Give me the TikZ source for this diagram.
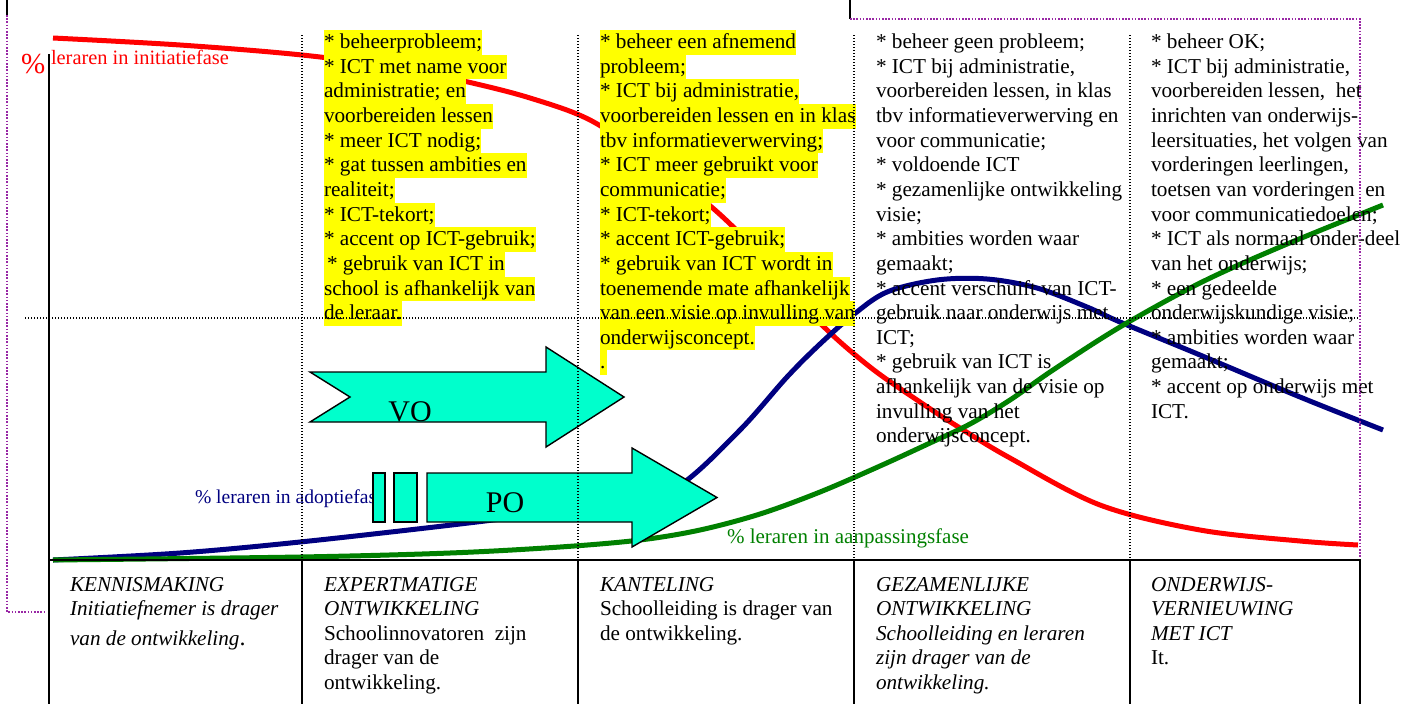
\documentclass[tikz,border=0pt]{standalone}
\usepackage{fontspec}
\setmainfont{Liberation Serif}
\definecolor{curvered}{RGB}{255,0,0}
\definecolor{curveblue}{RGB}{0,0,128}
\definecolor{curvegreen}{RGB}{0,128,0}
\definecolor{hlyellow}{RGB}{255,255,0}
\definecolor{arrowfill}{RGB}{0,255,204}
\definecolor{framepurple}{RGB}{153,40,165}
\newcommand\colfont{\fontsize{21.2pt}{24.65pt}\selectfont}
\newcommand\lblfont{\fontsize{20.4pt}{24pt}\selectfont}
\newcommand\bigfont{\fontsize{30pt}{34pt}\selectfont}
\begin{document}
\begin{tikzpicture}[x=1pt,y=-1pt,
  coltext/.style={anchor=north west,inner sep=0pt,outer sep=0pt,text height=18.5pt,text depth=6.15pt,font=\colfont},
  hl/.style={coltext,fill=hlyellow},
  tabtext/.style={anchor=base west,inner sep=0pt,outer sep=0pt,font=\colfont},
  lbl/.style={anchor=base west,inner sep=0pt,outer sep=0pt,font=\lblfont},
  curve/.style={line width=5pt,line join=round},
  sep/.style={black,line width=1.1pt,dash pattern=on 1.1pt off 1.9pt},
  frame/.style={framepurple,line width=1.6pt,dash pattern=on 1.6pt off 1.6pt},
  fat/.style={draw=black,line width=1.4pt,fill=arrowfill,line join=miter},
  rule/.style={black,line width=2pt}
]
\useasboundingbox (0,0) rectangle (1402,704);

% --- the three phase curves ---
\draw[curve,curvered] plot[smooth,tension=0.55] coordinates {
  (53,38) (180,45) (302,55) (400,68) (468,82) (530,98) (590,120) (650,160)
  (715,210) (770,265) (820,323) (870,367) (920,402) (960,428) (1010,458)
  (1100,505) (1200,530) (1300,541) (1358,545)};
\draw[curve,curveblue] plot[smooth,tension=0.55] coordinates {
  (53,560) (180,553) (300,542) (460,524) (560,511) (630,498) (680,485)
  (740,430) (787,377) (820,344) (853,315) (887,292) (937,280) (987,279)
  (1037,288) (1087,307) (1120,322) (1200,355) (1300,397) (1383,430)};
\draw[curve,curvegreen] plot[smooth,tension=0.55] coordinates {
  (53,560) (300,557) (450,553) (560,547) (640,540) (700,530) (760,514)
  (820,492) (880,466) (930,443) (970,424) (1010,400) (1053,370) (1120,327)
  (1200,283) (1280,247) (1383,205)};

% --- phase descriptions ---
\foreach \t [count=\i] in {
  {* beheerprobleem;},
  {* ICT met name voor},
  {administratie; en},
  {voorbereiden lessen},
  {* meer ICT nodig;},
  {* gat tussen ambities en},
  {realiteit;},
  {* ICT-tekort;},
  {* accent op ICT-gebruik;},
  {\kern3pt* gebruik van ICT in},
  {school is afhankelijk van},
  {de leraar.}}
  \node[hl] (kb-\i) at (324,{30+(\i-1)*24.65}) {\t};

\foreach \t [count=\i] in {
  {* beheer een afnemend},
  {probleem;},
  {* ICT bij administratie,},
  {voorbereiden lessen en in klas},
  {tbv informatieverwerving;},
  {* ICT meer gebruikt voor},
  {communicatie;},
  {* ICT-tekort;},
  {* accent ICT-gebruik;},
  {* gebruik van ICT wordt in},
  {toenemende mate afhankelijk},
  {van een visie op invulling van},
  {onderwijsconcept.},
  {.\kern1.5pt}}
  \node[hl] (kc-\i) at (600,{30+(\i-1)*24.65}) {\t};

\foreach \t [count=\i] in {
  {* beheer geen probleem;},
  {* ICT bij administratie,},
  {voorbereiden lessen, in klas},
  {tbv informatieverwerving en},
  {voor communicatie;},
  {* voldoende ICT},
  {* gezamenlijke ontwikkeling},
  {visie;},
  {* ambities worden waar},
  {gemaakt;},
  {* accent verschuift van ICT-},
  {gebruik naar onderwijs met},
  {ICT;},
  {* gebruik van ICT is},
  {afhankelijk van de visie op},
  {invulling van het},
  {onderwijsconcept.}}
  \node[coltext] (kd-\i) at (876,{30+(\i-1)*24.65}) {\t};

\foreach \t [count=\i] in {
  {* beheer OK;},
  {* ICT bij administratie,},
  {voorbereiden lessen,\ \ het},
  {inrichten van onderwijs-},
  {leersituaties, het volgen van},
  {vorderingen leerlingen,},
  {toetsen van vorderingen\ \ en},
  {voor communicatiedoelen;},
  {* ICT als normaal onder-deel},
  {van het onderwijs;},
  {* een gedeelde},
  {onderwijskundige visie;},
  {* ambities worden waar},
  {gemaakt;},
  {* accent op onderwijs met},
  {ICT.}}
  \node[coltext] (ke-\i) at (1151,{30+(\i-1)*24.65}) {\t};

% --- curve labels ---
\node[anchor=base west,inner sep=0pt,text=curvered,font=\fontsize{29pt}{30pt}\selectfont] (pct) at (21,73) {\%};
\node[lbl,text=curvered] (lbl-init) at (51,64) {leraren in initiatiefase};
\node[lbl,text=curveblue,font=\fontsize{19.6pt}{24pt}\selectfont] (lbl-adopt) at (195,503) {\% leraren in adoptiefase};
\node[lbl,text=curvegreen,font=\fontsize{21pt}{24pt}\selectfont] (lbl-aanp) at (727,543) {\% leraren in aanpassingsfase};

% --- block arrows ---
\draw[fat] (310,372) -- (546,372) -- (546,347) -- (624,397) -- (546,447)
  -- (546,422) -- (310,422) -- (350,397) -- cycle;
\node[anchor=base,inner sep=0pt,font=\bigfont] (vo) at (410,421) {VO};
\draw[fat] (373,473) rectangle (385,522);
\draw[fat] (394,473) rectangle (417,522);
\draw[fat] (427,473) -- (632,473) -- (632,448) -- (717,497.5) -- (632,547)
  -- (632,522) -- (427,522) -- cycle;
\node[anchor=base,inner sep=0pt,font=\bigfont] (po) at (505,512) {PO};

% --- dotted guide lines ---
\foreach \x in {302,578,854,1130}
  \draw[sep] (\x,35) -- (\x,560);
\draw[sep] (25,318) -- (1358,318);

% --- frame marks ---
\draw[black,line width=1.5pt] (7,0) -- (7,15);
\draw[black,line width=1.5pt] (850,0) -- (850,19);
\draw[frame] (7,15) -- (7,612) -- (46,612);
\draw[frame] (850,19) -- (1360,19) -- (1360,558);

% --- axis and table rules ---
\draw[rule] (49,54) -- (49,704);
\draw[rule] (48,560) -- (1361,560);
\foreach \x in {302,578,854,1130,1360}
  \draw[rule] (\x,560) -- (\x,704);

% --- table text ---
\node[tabtext] (ta1) at (70,591) {\itshape KENNISMAKING};
\node[tabtext] (ta2) at (70,615.65) {\itshape Initiatiefnemer is drager};
\node[tabtext] (ta3) at (70,645) {\textit{van de ontwikkeling}{\fontsize{24pt}{24pt}\selectfont.}};

\node[tabtext] (tb1) at (324,591) {\itshape EXPERTMATIGE};
\node[tabtext] (tb2) at (324,615.65) {\itshape ONTWIKKELING};
\node[tabtext] (tb3) at (324,640.3) {Schoolinnovatoren\ \ zijn};
\node[tabtext] (tb4) at (324,664.95) {drager van de};
\node[tabtext] (tb5) at (324,689.6) {ontwikkeling.};

\node[tabtext] (tc1) at (600,591) {\itshape KANTELING};
\node[tabtext] (tc2) at (600,615.65) {Schoolleiding is drager van};
\node[tabtext] (tc3) at (600,640.3) {de ontwikkeling.};

\node[tabtext] (td1) at (876,591) {\itshape GEZAMENLIJKE};
\node[tabtext] (td2) at (876,615.65) {\itshape ONTWIKKELING};
\node[tabtext] (td3) at (876,640.3) {\itshape Schoolleiding en leraren};
\node[tabtext] (td4) at (876,664.95) {\itshape zijn drager van de};
\node[tabtext] (td5) at (876,689.6) {\itshape ontwikkeling.};

\node[tabtext] (te1) at (1151,591) {\itshape ONDERWIJS-};
\node[tabtext] (te2) at (1151,615.65) {\itshape VERNIEUWING};
\node[tabtext] (te3) at (1151,640.3) {\itshape MET ICT};
\node[tabtext] (te4) at (1151,664.95) {It.};
\end{tikzpicture}
\end{document}
